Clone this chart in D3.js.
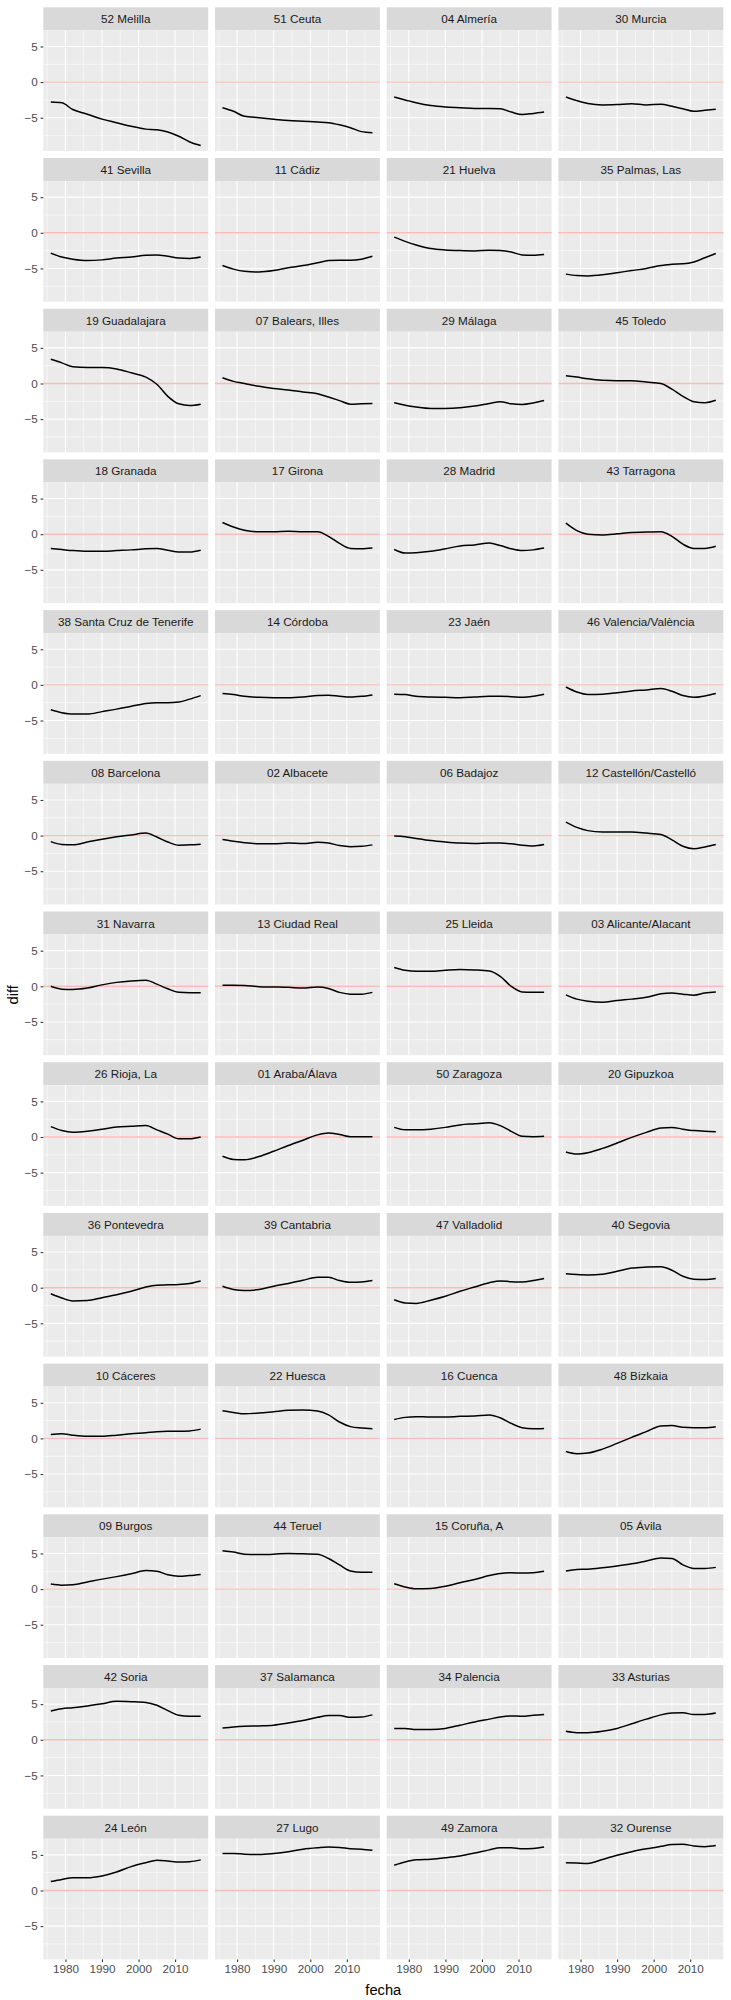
<!DOCTYPE html>
<html>
<head>
<meta charset="utf-8">
<script src="https://cdn.jsdelivr.net/npm/d3@7"></script>
<style>
  body { margin: 0; background: #fff; }
  text { font-family: "Liberation Sans", Arial, sans-serif; }
</style>
</head>
<body>
<div id="chart"></div>
<script>
const years = [1976, 1979, 1982, 1986, 1990, 1994, 1998, 2002, 2005, 2008, 2011, 2014, 2017];

// facet order (row by row, 4 per row)
const provinces = [
  "52 Melilla", "51 Ceuta", "04 Almería", "30 Murcia",
  "41 Sevilla", "11 Cádiz", "21 Huelva", "35 Palmas, Las",
  "19 Guadalajara", "07 Balears, Illes", "29 Málaga", "45 Toledo",
  "18 Granada", "17 Girona", "28 Madrid", "43 Tarragona",
  "38 Santa Cruz de Tenerife", "14 Córdoba", "23 Jaén", "46 Valencia/València",
  "08 Barcelona", "02 Albacete", "06 Badajoz", "12 Castellón/Castelló",
  "31 Navarra", "13 Ciudad Real", "25 Lleida", "03 Alicante/Alacant",
  "26 Rioja, La", "01 Araba/Álava", "50 Zaragoza", "20 Gipuzkoa",
  "36 Pontevedra", "39 Cantabria", "47 Valladolid", "40 Segovia",
  "10 Cáceres", "22 Huesca", "16 Cuenca", "48 Bizkaia",
  "09 Burgos", "44 Teruel", "15 Coruña, A", "05 Ávila",
  "42 Soria", "37 Salamanca", "34 Palencia", "33 Asturias",
  "24 León", "27 Lugo", "49 Zamora", "32 Ourense"
];

// diff values, one row per province, aligned with years
const diffs = [
  [-2.8, -2.9, -3.85, -4.5, -5.2, -5.7, -6.2, -6.6, -6.7, -7.0, -7.6, -8.4, -8.9],
  [-3.6, -4.1, -4.8, -5.0, -5.2, -5.4, -5.5, -5.6, -5.7, -6.0, -6.4, -6.95, -7.1],
  [-2.1, -2.5, -2.9, -3.3, -3.5, -3.6, -3.7, -3.7, -3.75, -4.2, -4.55, -4.4, -4.2],
  [-2.1, -2.6, -3.0, -3.2, -3.15, -3.05, -3.2, -3.1, -3.4, -3.75, -4.1, -3.95, -3.8],

  [-2.85, -3.4, -3.7, -3.9, -3.8, -3.55, -3.4, -3.15, -3.1, -3.3, -3.55, -3.6, -3.4],
  [-4.6, -5.1, -5.4, -5.5, -5.3, -4.9, -4.6, -4.2, -3.9, -3.85, -3.85, -3.7, -3.3],
  [-0.6, -1.2, -1.7, -2.2, -2.4, -2.5, -2.55, -2.45, -2.5, -2.7, -3.1, -3.15, -3.05],
  [-5.8, -6.0, -6.05, -5.9, -5.6, -5.3, -5.0, -4.6, -4.4, -4.35, -4.1, -3.5, -2.9],

  [3.4, 2.9, 2.35, 2.25, 2.25, 2.05, 1.5, 0.9, -0.1, -1.8, -2.85, -3.1, -2.9],
  [0.8, 0.3, 0.0, -0.4, -0.7, -0.9, -1.2, -1.45, -1.9, -2.4, -2.9, -2.85, -2.8],
  [-2.7, -3.05, -3.3, -3.5, -3.5, -3.4, -3.15, -2.8, -2.55, -2.85, -2.95, -2.75, -2.4],
  [1.1, 0.9, 0.65, 0.45, 0.4, 0.4, 0.2, 0.0, -0.8, -1.8, -2.55, -2.7, -2.35],

  [-2.0, -2.15, -2.3, -2.4, -2.4, -2.3, -2.2, -2.05, -2.0, -2.25, -2.5, -2.5, -2.25],
  [1.65, 1.0, 0.55, 0.35, 0.35, 0.4, 0.35, 0.35, -0.3, -1.3, -2.0, -2.05, -1.95],
  [-2.15, -2.65, -2.6, -2.4, -2.05, -1.65, -1.5, -1.25, -1.6, -2.05, -2.3, -2.2, -1.95],
  [1.55, 0.5, 0.0, -0.1, 0.05, 0.25, 0.3, 0.35, -0.3, -1.4, -2.0, -2.0, -1.7],

  [-3.5, -3.9, -4.1, -4.1, -3.75, -3.4, -3.0, -2.6, -2.5, -2.5, -2.4, -2.0, -1.5],
  [-1.2, -1.35, -1.6, -1.75, -1.8, -1.8, -1.7, -1.5, -1.45, -1.6, -1.7, -1.6, -1.4],
  [-1.3, -1.35, -1.6, -1.7, -1.75, -1.8, -1.7, -1.6, -1.6, -1.65, -1.75, -1.6, -1.3],
  [-0.3, -1.0, -1.35, -1.3, -1.1, -0.85, -0.7, -0.5, -0.9, -1.5, -1.75, -1.55, -1.2],

  [-0.85, -1.25, -1.3, -0.9, -0.5, -0.15, 0.1, 0.35, -0.2, -0.9, -1.35, -1.3, -1.2],
  [-0.55, -0.8, -1.0, -1.15, -1.15, -1.05, -1.1, -0.95, -1.05, -1.4, -1.55, -1.5, -1.3],
  [-0.05, -0.15, -0.4, -0.7, -0.9, -1.05, -1.1, -1.05, -1.05, -1.15, -1.35, -1.45, -1.25],
  [1.9, 1.15, 0.7, 0.5, 0.5, 0.5, 0.35, 0.15, -0.6, -1.5, -1.85, -1.6, -1.25],

  [0.0, -0.4, -0.45, -0.25, 0.2, 0.55, 0.75, 0.85, 0.3, -0.35, -0.85, -0.9, -0.9],
  [0.15, 0.15, 0.1, -0.05, -0.1, -0.15, -0.25, -0.1, -0.3, -0.85, -1.1, -1.1, -0.85],
  [2.65, 2.25, 2.1, 2.1, 2.25, 2.35, 2.3, 2.15, 1.4, 0.0, -0.8, -0.85, -0.85],
  [-1.2, -1.8, -2.1, -2.25, -2.0, -1.8, -1.55, -1.05, -0.95, -1.1, -1.25, -0.95, -0.8],

  [1.45, 0.9, 0.65, 0.8, 1.1, 1.4, 1.5, 1.6, 1.0, 0.4, -0.25, -0.25, 0.0],
  [-2.7, -3.15, -3.2, -2.75, -2.0, -1.2, -0.45, 0.3, 0.55, 0.35, 0.05, 0.05, 0.05],
  [1.35, 1.0, 1.0, 1.1, 1.35, 1.7, 1.85, 2.0, 1.6, 0.8, 0.1, 0.05, 0.1],
  [-2.1, -2.4, -2.2, -1.6, -0.85, -0.05, 0.65, 1.25, 1.35, 1.1, 0.9, 0.8, 0.75],

  [-0.85, -1.45, -1.85, -1.8, -1.4, -1.0, -0.5, 0.1, 0.35, 0.4, 0.45, 0.6, 0.95],
  [0.2, -0.25, -0.4, -0.25, 0.2, 0.6, 1.05, 1.45, 1.45, 1.0, 0.75, 0.8, 1.0],
  [-1.7, -2.15, -2.2, -1.75, -1.2, -0.5, 0.1, 0.7, 0.95, 0.85, 0.8, 1.0, 1.3],
  [1.95, 1.85, 1.8, 1.9, 2.3, 2.75, 2.9, 2.95, 2.45, 1.6, 1.2, 1.15, 1.3],

  [0.55, 0.65, 0.45, 0.3, 0.3, 0.45, 0.65, 0.8, 0.95, 1.0, 1.0, 1.05, 1.3],
  [3.9, 3.65, 3.45, 3.55, 3.75, 3.95, 4.0, 3.85, 3.3, 2.3, 1.65, 1.45, 1.35],
  [2.65, 2.95, 3.05, 3.0, 3.0, 3.1, 3.15, 3.3, 2.9, 2.1, 1.5, 1.35, 1.4],
  [-1.85, -2.15, -2.05, -1.5, -0.7, 0.15, 0.95, 1.75, 1.8, 1.55, 1.5, 1.5, 1.65],

  [0.7, 0.55, 0.6, 1.0, 1.4, 1.75, 2.15, 2.6, 2.5, 2.0, 1.8, 1.9, 2.05],
  [5.4, 5.2, 4.9, 4.85, 4.9, 5.0, 4.95, 4.9, 4.3, 3.4, 2.55, 2.35, 2.35],
  [0.75, 0.3, 0.05, 0.1, 0.4, 0.9, 1.35, 1.9, 2.2, 2.3, 2.25, 2.3, 2.5],
  [2.55, 2.75, 2.8, 3.0, 3.25, 3.55, 3.95, 4.35, 4.3, 3.4, 2.9, 2.9, 3.05],

  [4.05, 4.35, 4.5, 4.75, 5.05, 5.4, 5.35, 5.25, 4.85, 4.1, 3.45, 3.3, 3.3],
  [1.65, 1.8, 1.9, 1.95, 2.05, 2.35, 2.7, 3.15, 3.4, 3.4, 3.15, 3.2, 3.5],
  [1.6, 1.6, 1.45, 1.45, 1.6, 2.05, 2.5, 2.9, 3.2, 3.35, 3.3, 3.45, 3.55],
  [1.2, 1.0, 1.0, 1.2, 1.6, 2.25, 2.9, 3.5, 3.75, 3.8, 3.55, 3.55, 3.75],

  [1.25, 1.55, 1.8, 1.8, 2.05, 2.6, 3.35, 3.9, 4.25, 4.15, 4.0, 4.05, 4.3],
  [5.2, 5.2, 5.1, 5.05, 5.2, 5.45, 5.8, 6.0, 6.1, 6.05, 5.85, 5.8, 5.65],
  [3.55, 4.0, 4.3, 4.4, 4.6, 4.85, 5.25, 5.7, 6.0, 6.0, 5.85, 5.9, 6.1],
  [3.9, 3.85, 3.8, 4.35, 4.95, 5.45, 5.85, 6.2, 6.45, 6.5, 6.25, 6.15, 6.3]
];

const xTicks = [1980, 1990, 2000, 2010];
const xMinor = [1975, 1985, 1995, 2005, 2015];
const yTicks = [-5, 0, 5];
const yMinor = [-7.5, -2.5, 2.5, 7.5];

window.onload = function () {
  var width = 731, height = 2000;
  var ncol = 4;
  var left0 = 43.3, colStep = 171.7, panelW = 164.9;
  var top0 = 7.3, rowStep = 150.7, stripH = 23, panelH = 120.7;
  var nrow = Math.ceil(provinces.length / ncol);

  var svg = d3.select("#chart")
    .append("svg")
    .attr("width", width)
    .attr("height", height);

  // ggplot style 5% expansion
  var xExt = d3.extent(years);
  var xPad = (xExt[1] - xExt[0]) * 0.05;
  var x = d3.scaleLinear()
    .domain([xExt[0] - xPad, xExt[1] + xPad])
    .range([0, panelW]);

  var yExt = d3.extent(diffs.flat());
  var yPad = (yExt[1] - yExt[0]) * 0.05;
  var y = d3.scaleLinear()
    .domain([yExt[0] - yPad, yExt[1] + yPad])
    .range([panelH, 0]);

  var line = d3.line()
    .x(function (d) { return x(d[0]); })
    .y(function (d) { return y(d[1]); })
    .curve(d3.curveMonotoneX);

  provinces.forEach(function (name, i) {
    var col = i % ncol, row = Math.floor(i / ncol);
    var px = left0 + col * colStep;
    var sy = top0 + row * rowStep;

    // strip
    var strip = svg.append("g").attr("transform", "translate(" + px + "," + sy + ")");
    strip.append("rect")
      .attr("width", panelW).attr("height", stripH)
      .attr("fill", "#D9D9D9");
    strip.append("text")
      .attr("x", panelW / 2).attr("y", stripH / 2 + 0.5)
      .attr("dy", "0.35em")
      .attr("text-anchor", "middle")
      .attr("font-size", "11.7px")
      .attr("fill", "#1A1A1A")
      .text(name);

    var g = svg.append("g").attr("transform", "translate(" + px + "," + (sy + stripH) + ")");
    g.append("rect")
      .attr("width", panelW).attr("height", panelH)
      .attr("fill", "#EBEBEB");

    // minor grid
    g.selectAll(".hmin").data(yMinor.filter(function (v) { return v > y.domain()[0] && v < y.domain()[1]; }))
      .enter().append("line")
      .attr("x1", 0).attr("x2", panelW)
      .attr("y1", function (d) { return y(d); }).attr("y2", function (d) { return y(d); })
      .attr("stroke", "#fff").attr("stroke-width", 0.55);
    g.selectAll(".vmin").data(xMinor)
      .enter().append("line")
      .attr("y1", 0).attr("y2", panelH)
      .attr("x1", function (d) { return x(d); }).attr("x2", function (d) { return x(d); })
      .attr("stroke", "#fff").attr("stroke-width", 0.55);
    // major grid
    g.selectAll(".hmaj").data(yTicks)
      .enter().append("line")
      .attr("x1", 0).attr("x2", panelW)
      .attr("y1", function (d) { return y(d); }).attr("y2", function (d) { return y(d); })
      .attr("stroke", "#fff").attr("stroke-width", 1.1);
    g.selectAll(".vmaj").data(xTicks)
      .enter().append("line")
      .attr("y1", 0).attr("y2", panelH)
      .attr("x1", function (d) { return x(d); }).attr("x2", function (d) { return x(d); })
      .attr("stroke", "#fff").attr("stroke-width", 1.1);

    // zero reference line
    g.append("line")
      .attr("x1", 0).attr("x2", panelW)
      .attr("y1", y(0)).attr("y2", y(0))
      .attr("stroke", "#F8BDB8").attr("stroke-width", 1.4);

    // series
    var pts = years.map(function (yr, k) { return [yr, diffs[i][k]]; });
    g.append("path")
      .datum(pts)
      .attr("d", line)
      .attr("fill", "none")
      .attr("stroke", "#000")
      .attr("stroke-width", 1.5)
      .attr("stroke-linejoin", "round");

    // y axis on first column
    if (col === 0) {
      var ay = g.append("g").call(d3.axisLeft(y).tickValues(yTicks).tickSize(2.7).tickFormat(d3.format("d")));
      ay.select(".domain").remove();
      ay.selectAll(".tick line").attr("stroke", "#333333").attr("stroke-width", 1.07);
      ay.selectAll(".tick text")
        .attr("x", -5.5)
        .attr("font-family", "'Liberation Sans', Arial, sans-serif")
        .attr("font-size", "11.7px").attr("fill", "#4D4D4D");
    }
    // x axis on last row
    if (row === nrow - 1) {
      var ax = g.append("g")
        .attr("transform", "translate(0," + panelH + ")")
        .call(d3.axisBottom(x).tickValues(xTicks).tickSize(2.7).tickFormat(d3.format("d")));
      ax.select(".domain").remove();
      ax.selectAll(".tick line").attr("stroke", "#333333").attr("stroke-width", 1.07);
      ax.selectAll(".tick text")
        .attr("y", 5)
        .attr("font-family", "'Liberation Sans', Arial, sans-serif")
        .attr("font-size", "11.7px").attr("fill", "#4D4D4D");
    }
  });

  var panelsTop = top0 + stripH;
  var panelsBottom = top0 + (nrow - 1) * rowStep + stripH + panelH;
  var panelsLeft = left0, panelsRight = left0 + (ncol - 1) * colStep + panelW;

  // axis titles
  svg.append("text")
    .attr("x", (panelsLeft + panelsRight) / 2)
    .attr("y", panelsBottom + 30)
    .attr("dy", "0.35em")
    .attr("text-anchor", "middle")
    .attr("font-size", "14.7px")
    .attr("fill", "#000")
    .text("fecha");

  svg.append("text")
    .attr("transform", "translate(13," + ((panelsTop + panelsBottom) / 2) + ") rotate(-90)")
    .attr("dy", "0.35em")
    .attr("text-anchor", "middle")
    .attr("font-size", "14.7px")
    .attr("fill", "#000")
    .text("diff");
};
</script>
</body>
</html>
